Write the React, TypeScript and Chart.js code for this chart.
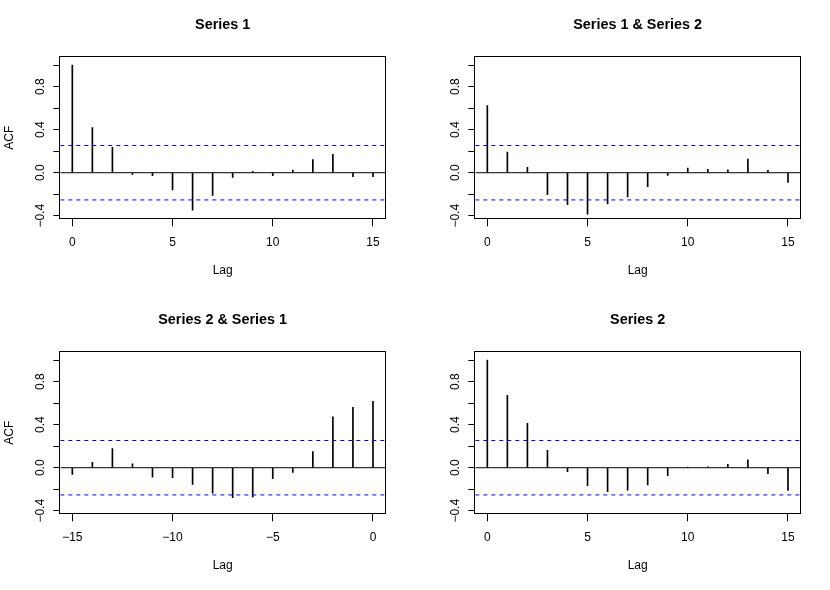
import React, { useEffect, useRef } from "react";
import { Chart, registerables } from "chart.js";

Chart.register(...registerables);

// ---------- data ----------
const lagsPositive = [0, 1, 2, 3, 4, 5, 6, 7, 8, 9, 10, 11, 12, 13, 14, 15];
const lagsNegative = [-15, -14, -13, -12, -11, -10, -9, -8, -7, -6, -5, -4, -3, -2, -1, 0];

const acfSeries1 = [1.0, 0.42, 0.236, -0.015, -0.028, -0.161, -0.347, -0.211, -0.043, 0.012, -0.028, 0.025, 0.121, 0.171, -0.037, -0.037];
const ccfSeries1Series2 = [0.623, 0.192, 0.05, -0.205, -0.298, -0.385, -0.291, -0.226, -0.13, -0.025, 0.043, 0.031, 0.028, 0.127, 0.022, -0.09];
const ccfSeries2Series1 = [-0.062, 0.05, 0.177, 0.037, -0.087, -0.093, -0.155, -0.236, -0.279, -0.273, -0.102, -0.043, 0.149, 0.474, 0.561, 0.617];
const acfSeries2 = [1.0, 0.673, 0.412, 0.161, -0.037, -0.167, -0.223, -0.208, -0.161, -0.074, 0.006, 0.009, 0.031, 0.074, -0.056, -0.211];

const confidenceLimit = 0.253;

const panelTitles = ["Series 1", "Series 1 & Series 2", "Series 2 & Series 1", "Series 2"];
const yAxisTitle = "ACF";
const xAxisTitle = "Lag";

const yMin = -0.433;
const yMax = 1.085;
const yStep = 0.2;
const xStep = 5;

const FONT = "'Liberation Sans', Arial, Helvetica, sans-serif";
const CELL_W = 415;
const CELL_H = 295;

const minusFmt = (s: string) => s.replace("-", "\u2212");

type PanelProps = {
  title: string;
  lags: number[];
  values: number[];
  showYTitle: boolean;
};

function Panel({ title, lags, values, showYTitle }: PanelProps) {
  const ref = useRef<HTMLCanvasElement | null>(null);

  useEffect(() => {
    if (!ref.current) return;
    const xMin = Math.min(...lags) - 0.6;
    const xMax = Math.max(...lags) + 0.6;

    const boxAndTitle = {
      id: "boxAndTitle",
      afterDraw(chart: any) {
        const { ctx, chartArea } = chart;
        ctx.save();
        ctx.strokeStyle = "#000";
        ctx.lineWidth = 1;
        const l = Math.round(chartArea.left) - 0.5;
        const t = Math.round(chartArea.top) + 0.5;
        const r = Math.round(chartArea.right) + 0.5;
        const b = Math.round(chartArea.bottom) - 0.5;
        ctx.strokeRect(l, t, r - l, b - t);
        ctx.fillStyle = "#000";
        ctx.font = `bold 14.4px ${FONT}`;
        ctx.textAlign = "center";
        ctx.textBaseline = "middle";
        ctx.fillText(title, (chartArea.left + chartArea.right) / 2, 25);
        ctx.restore();
      },
    };

    const chart = new Chart(ref.current, {
      type: "bar",
      data: {
        datasets: [
          {
            type: "bar",
            data: lags.map((l, i) => ({ x: l, y: values[i] })),
            backgroundColor: "#000",
            borderWidth: 0,
            barThickness: 1,
            order: 2,
          } as any,
          {
            type: "line",
            data: [
              { x: xMin, y: 0 },
              { x: xMax, y: 0 },
            ],
            borderColor: "#000",
            borderWidth: 1,
            pointRadius: 0,
            order: 1,
          } as any,
          {
            type: "line",
            data: [
              { x: xMin, y: confidenceLimit },
              { x: xMax, y: confidenceLimit },
            ],
            borderColor: "#0000ff",
            borderWidth: 1,
            borderDash: [4, 4],
            pointRadius: 0,
            order: 0,
          } as any,
          {
            type: "line",
            data: [
              { x: xMin, y: -confidenceLimit },
              { x: xMax, y: -confidenceLimit },
            ],
            borderColor: "#0000ff",
            borderWidth: 1,
            borderDash: [4, 4],
            pointRadius: 0,
            order: 0,
          } as any,
        ],
      },
      options: {
        animation: false,
        responsive: false,
        devicePixelRatio: 1,
        layout: { padding: { top: 56, left: 0, right: 30, bottom: 0 } },
        plugins: {
          legend: { display: false },
          tooltip: { enabled: false },
          title: { display: false },
        },
        scales: {
          x: {
            type: "linear",
            min: xMin,
            max: xMax,
            offset: false,
            grid: {
              drawOnChartArea: false,
              drawTicks: true,
              tickLength: 7,
              color: "#000",
              offset: false,
            },
            border: { display: false },
            ticks: {
              stepSize: xStep,
              includeBounds: false,
              autoSkip: false,
              maxRotation: 0,
              minRotation: 0,
              padding: 9.5,
              color: "#000",
              font: { family: FONT, size: 12 },
              callback: (v: any) => minusFmt(String(Math.round(Number(v)))),
            },
            title: {
              display: true,
              text: xAxisTitle,
              color: "#000",
              font: { family: FONT, size: 12 },
              padding: { top: 0, bottom: 17 },
            },
            afterFit: (s: any) => {
              s.height = CELL_H - 219.3;
            },
          } as any,
          y: {
            type: "linear",
            min: yMin,
            max: yMax,
            grid: {
              drawOnChartArea: false,
              drawTicks: true,
              tickLength: 7,
              color: "#000",
            },
            border: { display: false },
            ticks: {
              stepSize: yStep,
              includeBounds: false,
              autoSkip: false,
              minRotation: 90,
              maxRotation: 90,
              crossAlign: "center",
              padding: 0.5,
              color: "#000",
              font: { family: FONT, size: 12 },
              callback: (v: any) => {
                const k = Math.round(Number(v) * 10);
                if (k % 4 !== 0) return "";
                return minusFmt((k / 10).toFixed(1));
              },
            },
            title: {
              display: showYTitle,
              text: yAxisTitle,
              color: "#000",
              font: { family: FONT, size: 12 },
              padding: { top: 2.8, bottom: 0 },
            },
            afterFit: (s: any) => {
              s.width = 60.3;
            },
          } as any,
        },
      } as any,
      plugins: [boxAndTitle],
    });
    return () => chart.destroy();
  }, [title, lags, values, showYTitle]);

  return <canvas ref={ref} width={CELL_W} height={CELL_H} style={{ display: "block", width: CELL_W, height: CELL_H }} />;
}

export default function App() {
  useEffect(() => {
    document.body.style.margin = "0";
    document.body.style.background = "#fff";
  }, []);
  return (
    <div
      style={{
        position: "absolute",
        left: 0,
        top: 0,
        width: 830,
        height: 590,
        background: "#fff",
        display: "grid",
        gridTemplateColumns: `${CELL_W}px ${CELL_W}px`,
        gridTemplateRows: `${CELL_H}px ${CELL_H}px`,
      }}
    >
      <Panel title={panelTitles[0]} lags={lagsPositive} values={acfSeries1} showYTitle={true} />
      <Panel title={panelTitles[1]} lags={lagsPositive} values={ccfSeries1Series2} showYTitle={false} />
      <Panel title={panelTitles[2]} lags={lagsNegative} values={ccfSeries2Series1} showYTitle={true} />
      <Panel title={panelTitles[3]} lags={lagsPositive} values={acfSeries2} showYTitle={false} />
    </div>
  );
}
